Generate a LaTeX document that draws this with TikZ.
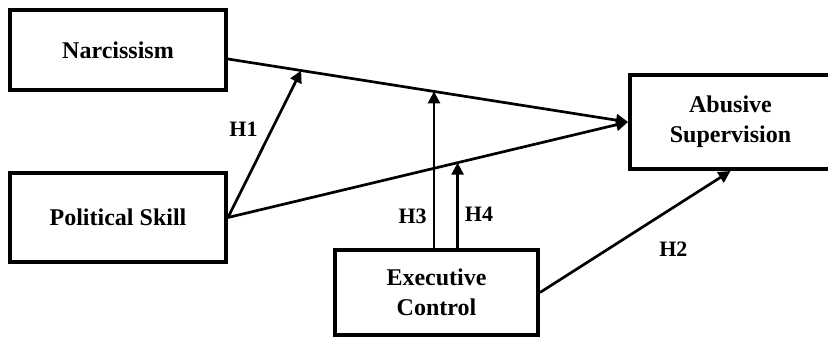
\documentclass[tikz,border=0pt]{standalone}
\usepackage{fontspec}
\setmainfont{Liberation Serif}
\usetikzlibrary{arrows.meta}
\begin{document}
\begin{tikzpicture}[
   x=1pt, y=-1pt,
   construct/.style={draw, rectangle, line width=4pt, align=center, inner sep=0pt,
       font=\bfseries\fontsize{24}{30}\selectfont},
   path arrow/.style={line width=2.7pt, -{Triangle[length=12pt,width=12pt]}},
   hyp/.style={inner sep=1pt, font=\bfseries\fontsize{22}{26}\selectfont}]

\useasboundingbox (0,0) rectangle (828,339);

\node[construct, minimum width=216pt, minimum height=80pt] (narc) at (118,50) {Narcissism};
\node[construct, minimum width=216pt, minimum height=89pt] (polskill) at (118,217.5) {Political Skill};
\node[construct, minimum width=201pt, minimum height=94pt] (abuse) at (730.5,122) {Abusive\\Supervision};
\node[construct, minimum width=203pt, minimum height=85pt] (exec) at (436.5,292.5) {Executive\\Control};

\draw[path arrow] ([yshift=-9pt]narc.east) -- (abuse.west)
    coordinate[pos=0.183] (h1end) coordinate[pos=0.515] (h3end);
\draw[path arrow] (polskill.east) -- (abuse.west) coordinate[pos=0.574] (h4end);

\draw[path arrow] (polskill.east) -- (h1end) node[hyp, pos=0.6, left=12pt] (lblh1) {H1};
\draw[path arrow] (exec.north -| h3end) -- (h3end) node[hyp, pos=0.2, left=5pt] (lblh3) {H3};
\draw[path arrow] (exec.north -| h4end) -- (h4end) node[hyp, pos=0.39, right=5pt] (lblh4) {H4};
\draw[path arrow] (exec.east) -- (abuse.south) node[hyp, pos=0.7, below=32pt] (lblh2) {H2};

\end{tikzpicture}
\end{document}
